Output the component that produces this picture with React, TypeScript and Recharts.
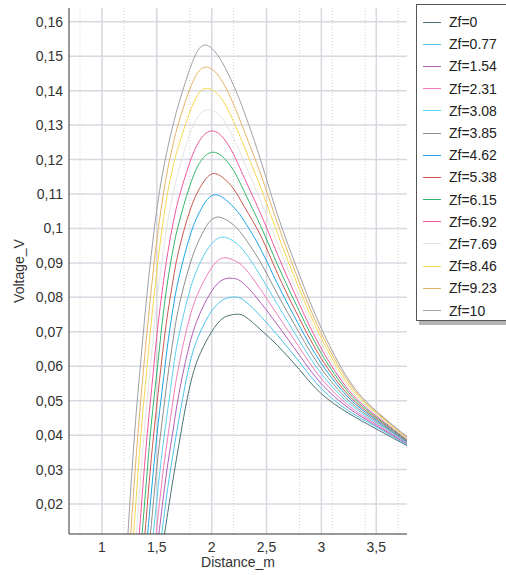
import { LineChart, Line, XAxis, YAxis, CartesianGrid } from "recharts";

// distance grid (m) shared by all curves
const DISTANCE = [
  1.2, 1.25, 1.3, 1.35, 1.4, 1.45, 1.5, 1.55, 1.6, 1.65, 1.7, 1.8,
  1.9, 2.0, 2.1, 2.2, 2.3, 2.45, 2.6, 2.8, 3.0, 3.25, 3.5, 3.8,
];

// voltage (V) per Zf value; null = curve not started yet
const V_ZF_0 = [null, null, null, null, null, null, -0.003, 0.007, 0.0175, 0.0275, 0.037, 0.054, 0.064, 0.07, 0.0739, 0.075, 0.0745, 0.0705, 0.066, 0.059, 0.052, 0.0463, 0.0418, 0.0366];
const V_ZF_077 = [null, null, null, null, null, null, 0.001, 0.0125, 0.0247, 0.0348, 0.0443, 0.0607, 0.0702, 0.076, 0.0792, 0.0801, 0.079, 0.0744, 0.069, 0.0612, 0.0535, 0.047, 0.0424, 0.0368];
const V_ZF_154 = [null, null, null, null, null, -0.006, 0.0063, 0.0195, 0.0316, 0.0418, 0.0517, 0.0665, 0.0758, 0.0818, 0.0851, 0.0855, 0.0838, 0.0783, 0.072, 0.0632, 0.0549, 0.0478, 0.0428, 0.037];
const V_ZF_231 = [null, null, null, null, null, -0.001, 0.013, 0.0275, 0.0394, 0.0505, 0.06, 0.0742, 0.0829, 0.0886, 0.0914, 0.0908, 0.0885, 0.0821, 0.0749, 0.0654, 0.0564, 0.0485, 0.0432, 0.0372];
const V_ZF_308 = [null, null, null, null, -0.009, 0.0059, 0.021, 0.0355, 0.0474, 0.0593, 0.0687, 0.0819, 0.0904, 0.0956, 0.0975, 0.0963, 0.0932, 0.086, 0.0779, 0.0674, 0.0578, 0.0493, 0.0436, 0.0373];
const V_ZF_385 = [null, null, null, null, -0.0027, 0.014, 0.0307, 0.0444, 0.0571, 0.068, 0.0771, 0.0894, 0.0976, 0.1026, 0.103, 0.101, 0.0973, 0.0899, 0.0809, 0.0696, 0.0593, 0.05, 0.044, 0.0375];
const V_ZF_462 = [null, null, null, -0.012, 0.0055, 0.0232, 0.0397, 0.0534, 0.0665, 0.0772, 0.0855, 0.0976, 0.1054, 0.1095, 0.109, 0.1062, 0.102, 0.0938, 0.0839, 0.0717, 0.0608, 0.0508, 0.0444, 0.0377];
const V_ZF_538 = [null, null, null, -0.0042, 0.0144, 0.0332, 0.0487, 0.0631, 0.0755, 0.0853, 0.0936, 0.105, 0.1122, 0.1158, 0.1148, 0.1115, 0.1062, 0.0977, 0.0869, 0.0738, 0.0622, 0.0515, 0.0448, 0.0379];
const V_ZF_615 = [null, null, -0.0144, 0.005, 0.0246, 0.0432, 0.058, 0.0728, 0.0849, 0.0942, 0.1014, 0.1123, 0.1195, 0.1221, 0.1208, 0.1168, 0.1105, 0.1005, 0.0895, 0.0759, 0.0637, 0.0523, 0.0452, 0.0381];
const V_ZF_692 = [null, null, -0.0047, 0.0154, 0.0357, 0.0525, 0.0687, 0.082, 0.093, 0.1017, 0.1087, 0.1191, 0.126, 0.1283, 0.1265, 0.1215, 0.1145, 0.104, 0.0925, 0.078, 0.0651, 0.053, 0.0456, 0.0383];
const V_ZF_769 = [null, -0.0156, 0.0054, 0.0265, 0.0461, 0.0626, 0.0784, 0.0913, 0.1022, 0.1102, 0.1169, 0.1273, 0.1334, 0.1343, 0.1318, 0.1262, 0.119, 0.1077, 0.0955, 0.0801, 0.0666, 0.0538, 0.046, 0.0384];
const V_ZF_846 = [null, -0.006, 0.0163, 0.0382, 0.0561, 0.0728, 0.0876, 0.1004, 0.1106, 0.1183, 0.1241, 0.1337, 0.1399, 0.1403, 0.1372, 0.131, 0.1235, 0.1116, 0.0985, 0.0823, 0.0681, 0.0545, 0.0464, 0.0386];
const V_ZF_923 = [-0.018, 0.0055, 0.0286, 0.0488, 0.0663, 0.0824, 0.0965, 0.1079, 0.1173, 0.1247, 0.1308, 0.1404, 0.1462, 0.1463, 0.1425, 0.136, 0.128, 0.1155, 0.1015, 0.0843, 0.0695, 0.0553, 0.0467, 0.0388];
const V_ZF_10 = [-0.008, 0.018, 0.0415, 0.06, 0.0775, 0.0925, 0.1055, 0.1155, 0.1235, 0.1303, 0.1362, 0.1462, 0.1527, 0.1523, 0.148, 0.1415, 0.1335, 0.1195, 0.104, 0.0865, 0.071, 0.056, 0.047, 0.039];

const ZF_LABELS = [
  "Zf=0", "Zf=0.77", "Zf=1.54", "Zf=2.31", "Zf=3.08", "Zf=3.85", "Zf=4.62",
  "Zf=5.38", "Zf=6.15", "Zf=6.92", "Zf=7.69", "Zf=8.46", "Zf=9.23", "Zf=10",
];
const SERIES_VALUES = [
  V_ZF_0, V_ZF_077, V_ZF_154, V_ZF_231, V_ZF_308, V_ZF_385, V_ZF_462,
  V_ZF_538, V_ZF_615, V_ZF_692, V_ZF_769, V_ZF_846, V_ZF_923, V_ZF_10,
];
const COLORS = [
  "#4a7272", "#4cc4ea", "#b25db5", "#f27db8", "#5ccff2", "#8e8e8e", "#1ea4e4",
  "#c9574f", "#35b56a", "#f0579f", "#e4e4e4", "#f6d94e", "#e6b464", "#a0a0a6",
];

const X_TICKS = [1, 1.5, 2, 2.5, 3, 3.5];
const Y_TICKS = [0.02, 0.03, 0.04, 0.05, 0.06, 0.07, 0.08, 0.09, 0.1, 0.11, 0.12, 0.13, 0.14, 0.15, 0.16];

const X_DOMAIN: [number, number] = [0.7, 3.78];
const Y_DOMAIN: [number, number] = [0.0113, 0.164];

// minor tick positions: every 0.1 m and every 0.002 V
const X_MINOR = Array.from({ length: 31 }, (_, k) => +(0.7 + k * 0.1).toFixed(2));
const Y_MINOR = Array.from({ length: 77 }, (_, k) => +(0.012 + k * 0.002).toFixed(3));

const rows = DISTANCE.map((d, k) => {
  const row: Record<string, number | null> = { distance: d };
  SERIES_VALUES.forEach((vals, i) => {
    row[`s${i}`] = vals[k];
  });
  return row;
});

const fmt = (v: number) => String(parseFloat(v.toFixed(3))).replace(".", ",");

const FONT = "'Liberation Sans', Arial, sans-serif";
const TEXT = "#333";
const FRAME = "#333";

function LegendBox() {
  return (
    <div
      style={{
        position: "absolute",
        left: 416,
        top: 4,
        width: 100,
        height: 317,
        border: "1px solid #555",
        background: "#fff",
        boxShadow: "3px 4px 0 #b4b4b4",
        paddingTop: 6,
        boxSizing: "border-box",
      }}
    >
      {ZF_LABELS.map((name, i) => (
        <div key={name} style={{ display: "flex", alignItems: "center", height: 22.2 }}>
          <div style={{ marginLeft: 6, width: 18, borderTop: `1px solid ${COLORS[i]}` }} />
          <span style={{ marginLeft: 8, fontSize: 14, color: "#222", fontFamily: FONT }}>{name}</span>
        </div>
      ))}
    </div>
  );
}

export default function App() {
  return (
    <div
      style={{
        position: "absolute",
        left: 0,
        top: 0,
        width: 506,
        height: 575,
        overflow: "hidden",
        background: "#fff",
        fontFamily: FONT,
      }}
    >
      <LineChart width={506} height={575} data={rows} margin={{ top: 8, right: 99, bottom: 0, left: 9 }}>
        <CartesianGrid horizontal={false} verticalValues={X_MINOR} stroke="#d2d2d2" strokeDasharray="1 2" />
        <CartesianGrid verticalValues={X_TICKS} horizontalValues={Y_TICKS} stroke="#d8d9e0" strokeWidth={1.5} />

        {SERIES_VALUES.map((_, i) => (
          <Line
            key={ZF_LABELS[i]}
            type="natural"
            dataKey={`s${i}`}
            name={ZF_LABELS[i]}
            stroke={COLORS[i]}
            strokeWidth={1}
            dot={false}
            activeDot={false}
            isAnimationActive={false}
          />
        ))}

        {/* labelled axes (left / bottom) */}
        <XAxis
          dataKey="distance"
          type="number"
          domain={X_DOMAIN}
          allowDataOverflow
          ticks={X_TICKS}
          tickFormatter={fmt}
          height={41}
          tickLine={false}
          tickSize={6}
          tickMargin={2}
          axisLine={{ stroke: FRAME }}
          tick={{ fontSize: 14, fill: TEXT }}
          label={{ value: "Distance_m", position: "insideBottom", offset: 8, fontSize: 14, fill: TEXT }}
        />
        <YAxis
          type="number"
          domain={Y_DOMAIN}
          allowDataOverflow
          ticks={Y_TICKS}
          tickFormatter={fmt}
          width={60}
          tickLine={false}
          tickSize={4}
          tickMargin={2}
          axisLine={{ stroke: FRAME }}
          tick={{ fontSize: 14, fill: TEXT }}
          label={{
            value: "Voltage_V",
            angle: -90,
            position: "insideLeft",
            offset: 10,
            fontSize: 14,
            fill: TEXT,
            style: { textAnchor: "middle" },
          }}
        />

        {/* inward tick marks on all four sides */}
        <XAxis xAxisId="bMaj" type="number" domain={X_DOMAIN} allowDataOverflow ticks={X_TICKS} mirror height={0} tick={false} tickSize={5} axisLine={false} tickLine={{ stroke: FRAME }} />
        <XAxis xAxisId="bMin" type="number" domain={X_DOMAIN} allowDataOverflow ticks={X_MINOR} mirror height={0} tick={false} tickSize={3} axisLine={false} tickLine={{ stroke: FRAME }} />
        <XAxis xAxisId="tMaj" orientation="top" type="number" domain={X_DOMAIN} allowDataOverflow ticks={X_TICKS} mirror height={0} tick={false} tickSize={5} axisLine={{ stroke: FRAME }} tickLine={{ stroke: FRAME }} />
        <XAxis xAxisId="tMin" orientation="top" type="number" domain={X_DOMAIN} allowDataOverflow ticks={X_MINOR} mirror height={0} tick={false} tickSize={3} axisLine={false} tickLine={{ stroke: FRAME }} />
        <YAxis yAxisId="lMaj" type="number" domain={Y_DOMAIN} allowDataOverflow ticks={Y_TICKS} mirror width={0} tick={false} tickSize={5} axisLine={false} tickLine={{ stroke: FRAME }} />
        <YAxis yAxisId="lMin" type="number" domain={Y_DOMAIN} allowDataOverflow ticks={Y_MINOR} mirror width={0} tick={false} tickSize={3} axisLine={false} tickLine={{ stroke: FRAME }} />
        <YAxis yAxisId="rMaj" orientation="right" type="number" domain={Y_DOMAIN} allowDataOverflow ticks={Y_TICKS} mirror width={0} tick={false} tickSize={5} axisLine={{ stroke: FRAME }} tickLine={{ stroke: FRAME }} />
        <YAxis yAxisId="rMin" orientation="right" type="number" domain={Y_DOMAIN} allowDataOverflow ticks={Y_MINOR} mirror width={0} tick={false} tickSize={3} axisLine={false} tickLine={{ stroke: FRAME }} />
      </LineChart>
      <LegendBox />
    </div>
  );
}
